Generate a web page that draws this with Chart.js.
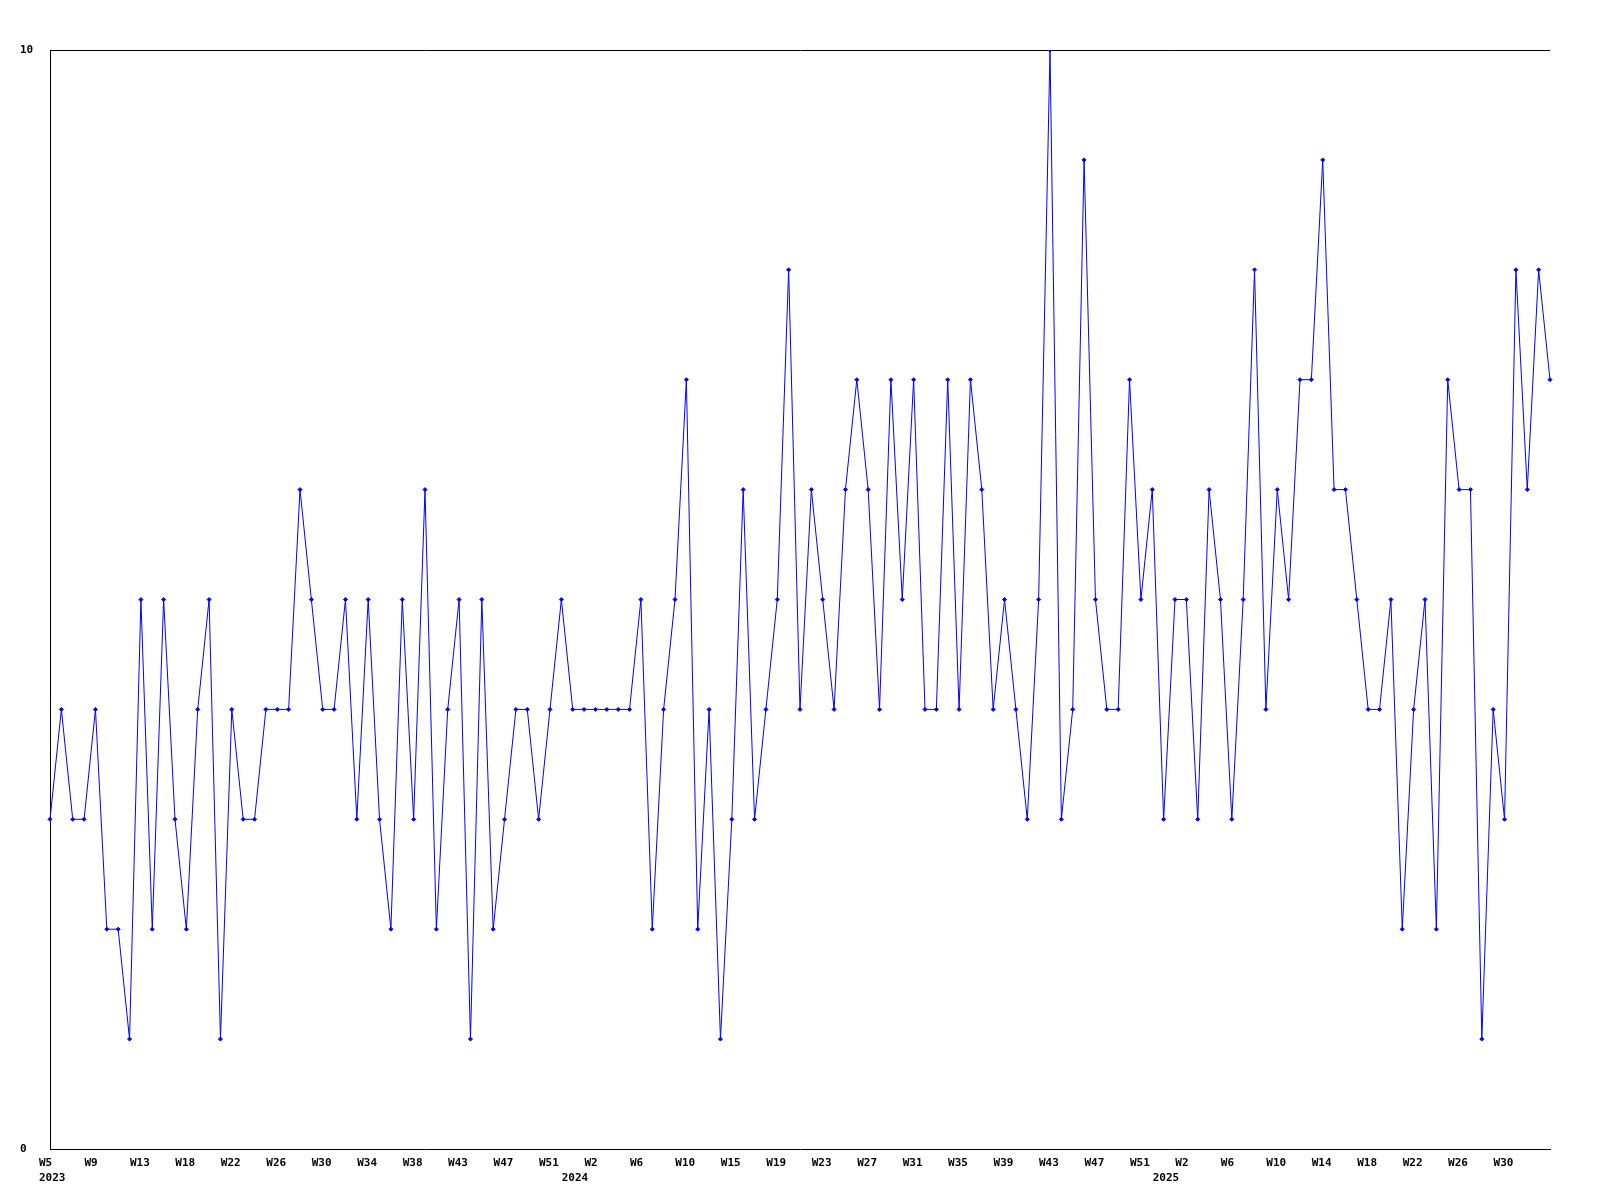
<!DOCTYPE html>
<html>
<head>
<meta charset="utf-8">
<script src="https://cdn.jsdelivr.net/npm/chart.js@4/dist/chart.umd.min.js"></script>
<style>
  html, body { margin: 0; padding: 0; background: #fff; }
  #wrap { width: 1600px; height: 1200px; }
</style>
</head>
<body>
<div id="wrap"><canvas id="chart" width="1600" height="1200"></canvas></div>
<script>
// weekly values, one per point (2023 W5 .. 2025)
const counts = [
  3, 4, 3, 3, 4, 2, 2, 1, 5, 2, 5, 3, 2, 4, 5, 1, 4,
  3, 3, 4, 4, 4, 6, 5, 4, 4, 5, 3, 5, 3, 2, 5, 3,
  6, 2, 4, 5, 1, 5, 2, 3, 4, 4, 3, 4, 5, 4, 4, 4,
  4, 4, 4, 5, 2, 4, 5, 7, 2, 4, 1, 3, 6, 3, 4, 5,
  8, 4, 6, 5, 4, 6, 7, 6, 4, 7, 5, 7, 4, 4, 7, 4, 7,
  6, 4, 5, 4, 3, 5, 10, 3, 4, 9, 5, 4, 4, 7, 5, 6,
  3, 5, 5, 3, 6, 5, 3, 5, 8, 4, 6, 5, 7, 7, 9, 6,
  6, 5, 4, 4, 5, 2, 4, 5, 2, 7, 6, 6, 1, 4, 3, 8, 6, 8, 7
];

// tick label shown on every 4th point
const weekTicks = [
  'W5', 'W9', 'W13', 'W18', 'W22', 'W26', 'W30', 'W34', 'W38', 'W43', 'W47', 'W51',
  'W2', 'W6', 'W10', 'W15', 'W19', 'W23', 'W27', 'W31', 'W35', 'W39', 'W43', 'W47', 'W51',
  'W2', 'W6', 'W10', 'W14', 'W18', 'W22', 'W26', 'W30'
];
const tickStep = 4;

// year labels under the week labels
const yearLabels = ['2023', '2024', '2025'];
const yearAt = [0, 46, 98];

const yTicks = [0, 10];

const labels = counts.map((_, i) => (i % tickStep === 0 && weekTicks[i / tickStep]) ? weekTicks[i / tickStep] : '');

const font = { family: '"DejaVu Sans Mono", monospace', size: 11, weight: 'bold', lineHeight: 1.4 };

new Chart(document.getElementById('chart'), {
  type: 'line',
  data: {
    labels: labels,
    datasets: [{
      data: counts,
      borderColor: '#0000ff',
      backgroundColor: '#0000ff',
      borderWidth: 1,
      pointStyle: 'rectRot',
      pointRadius: 2,
      pointBorderWidth: 1,
      tension: 0,
      fill: false
    }]
  },
  options: {
    responsive: false,
    animation: false,
    layout: { padding: { left: 20, top: 50, right: 50, bottom: 0 } },
    plugins: { legend: { display: false }, tooltip: { enabled: false } },
    scales: {
      x: {
        type: 'category',
        offset: false,
        grid: { display: false, drawTicks: false },
        border: { display: true, color: '#000', width: 1 },
        afterFit: (scale) => { scale.height = 51; },
        ticks: {
          autoSkip: false,
          maxRotation: 0,
          minRotation: 0,
          align: 'start',
          labelOffset: -11,
          padding: 6,
          color: '#000',
          font: font,
          callback: function (value, index) {
            const w = labels[index] || '';
            const k = yearAt.indexOf(index);
            if (k >= 0) return [w, yearLabels[k]];
            return w;
          }
        }
      },
      y: {
        min: 0,
        max: 10,
        afterBuildTicks: (scale) => { scale.ticks = yTicks.map(v => ({ value: v })); },
        afterFit: (scale) => { scale.width = 30; },
        grid: {
          drawTicks: false,
          lineWidth: 1,
          color: (ctx) => (ctx.tick && ctx.tick.value === 10) ? '#000' : 'rgba(0,0,0,0)'
        },
        border: { display: true, color: '#000', width: 1 },
        ticks: {
          crossAlign: 'far',
          padding: 0,
          color: '#000',
          font: { family: '"DejaVu Sans Mono", monospace', size: 11, weight: 'bold' }
        }
      }
    }
  }
});
</script>
</body>
</html>
